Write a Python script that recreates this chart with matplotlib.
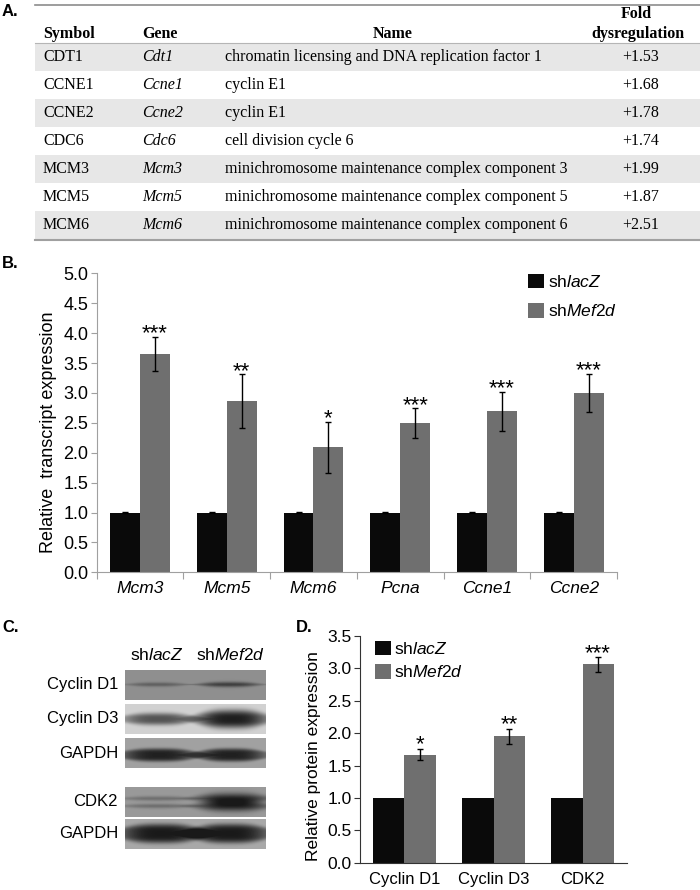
import numpy as np
import matplotlib
matplotlib.use('Agg')
import matplotlib.pyplot as plt
from matplotlib.patches import Rectangle

plt.rcParams['font.family'] = 'Liberation Sans'
plt.rcParams['mathtext.fontset'] = 'custom'
plt.rcParams['mathtext.rm'] = 'Liberation Sans'
plt.rcParams['mathtext.it'] = 'Liberation Sans:italic'

W, H = 700, 890

# A. table
symbols = ['CDT1', 'CCNE1', 'CCNE2', 'CDC6', 'MCM3', 'MCM5', 'MCM6']
genes = ['Cdt1', 'Ccne1', 'Ccne2', 'Cdc6', 'Mcm3', 'Mcm5', 'Mcm6']
names = ['chromatin licensing and DNA replication factor 1',
         'cyclin E1',
         'cyclin E1',
         'cell division cycle 6',
         'minichromosome maintenance complex component 3',
         'minichromosome maintenance complex component 5',
         'minichromosome maintenance complex component 6']
fold = [1.53, 1.68, 1.78, 1.74, 1.99, 1.87, 2.51]

# B. transcripts
b_genes = ['Mcm3', 'Mcm5', 'Mcm6', 'Pcna', 'Ccne1', 'Ccne2']
b_lacz = [1.0, 1.0, 1.0, 1.0, 1.0, 1.0]
b_lacz_err = [0.01, 0.01, 0.01, 0.01, 0.01, 0.01]
b_mef = [3.65, 2.86, 2.09, 2.49, 2.69, 3.0]
b_mef_err = [0.29, 0.45, 0.43, 0.25, 0.33, 0.32]
b_stars = ['***', '**', '*', '***', '***', '***']

# C. western blot (band darkness per lane)
blot_rows = ['Cyclin D1', 'Cyclin D3', 'GAPDH', 'CDK2', 'GAPDH']
blot_bg = [0.56, 0.82, 0.63, 0.60, 0.66]
band_lacz = [0.18, 0.49, 0.50, 0.16, 0.56]
band_mef = [0.31, 0.70, 0.50, 0.42, 0.56]

# D. proteins
d_prot = ['Cyclin D1', 'Cyclin D3', 'CDK2']
d_lacz = [1.0, 1.0, 1.0]
d_mef = [1.67, 1.95, 3.06]
d_mef_err = [0.09, 0.11, 0.11]
d_stars = ['*', '**', '***']

black = '#0a0a0a'
grey = '#6f6f6f'

fig = plt.figure(figsize=(7, 8.9), dpi=100)
bg = fig.add_axes([0, 0, 1, 1])
bg.set_xlim(0, W)
bg.set_ylim(H, 0)
bg.axis('off')


def px_axes(x0, y0, x1, y1):
    return fig.add_axes([x0 / W, 1 - y1 / H, (x1 - x0) / W, (y1 - y0) / H])


# ---- panel letters
for lab, lx, ly in [('A.', 2, 12), ('B.', 2, 263), ('C.', 2, 627), ('D.', 296, 627)]:
    bg.text(lx, ly, lab, fontsize=12, fontweight='bold', ha='left', va='center')

# ---- table
serif = 'Liberation Serif'
tfs = 11.5
row_h = 28
top = 43
bg.plot([35, 700], [5, 5], color='#8c8c8c', lw=1.2)
for i in range(len(symbols)):
    y0 = top + i * row_h
    if i % 2 == 0:
        bg.add_patch(Rectangle((35, y0), 665, row_h, color='#e7e7e7', lw=0))
    yc = y0 + row_h / 2
    bg.text(43, yc, symbols[i], family=serif, fontsize=tfs, va='center')
    bg.text(142, yc, genes[i], family=serif, fontsize=tfs, style='italic', va='center')
    bg.text(225, yc, names[i], family=serif, fontsize=tfs, va='center')
    bg.text(641, yc, f'+{fold[i]:.2f}', family=serif, fontsize=tfs, va='center', ha='center')
bg.plot([35, 700], [top, top], color='#b5b5b5', lw=0.8)
bg.plot([35, 700], [top + row_h * len(symbols) + 1] * 2, color='#a0a0a0', lw=1.5)
hy = 33.5
for txt, hx, ha in [('Symbol', 43, 'left'), ('Gene', 142, 'left'), ('Name', 393, 'center'),
                    ('dysregulation', 638, 'center')]:
    bg.text(hx, hy, txt, family=serif, fontsize=tfs, fontweight='bold', ha=ha, va='center')
bg.text(636, 14, 'Fold', family=serif, fontsize=tfs, fontweight='bold', ha='center', va='center')

# ---- panel B
axB = px_axes(96.7, 273.3, 617, 572.3)
xb = np.arange(len(b_genes)) + 0.5
bw = 0.345
ekw = dict(lw=1, capthick=1, ecolor='black')
axB.bar(xb - bw / 2, b_lacz, bw, color=black, yerr=b_lacz_err, capsize=2.5, error_kw=ekw,
        label='sh$\\mathit{lacZ}$')
axB.bar(xb + bw / 2, b_mef, bw, color=grey, yerr=b_mef_err, capsize=2.5, error_kw=ekw,
        label='sh$\\mathit{Mef2d}$')
for xi, v, e, s in zip(xb, b_mef, b_mef_err, b_stars):
    axB.annotate(s, xy=(xi + bw / 2, v + e), xytext=(0, -2), textcoords='offset points',
                 ha='center', va='baseline', fontsize=16)
axB.set_xlim(0, len(b_genes))
axB.set_ylim(0, 5)
axB.set_yticks(np.arange(0, 5.01, 0.5))
axB.set_yticklabels([f'{v:.1f}' for v in np.arange(0, 5.01, 0.5)], fontsize=13)
axB.set_xticks(np.arange(len(b_genes) + 1))
axB.set_xticklabels([])
axB.set_xticks(xb, minor=True)
axB.set_xticklabels(b_genes, minor=True, fontsize=12.5, style='italic')
axB.tick_params(axis='x', which='minor', length=0, pad=6.5)
axB.tick_params(axis='x', which='major', length=5, color='#a0a0a0')
axB.tick_params(axis='y', length=4, color='#a0a0a0', pad=2)
for sp in ['top', 'right']:
    axB.spines[sp].set_visible(False)
for sp in ['left', 'bottom']:
    axB.spines[sp].set_color('#a0a0a0')
axB.set_ylabel('Relative  transcript expression', fontsize=13, va='center')
axB.yaxis.set_label_coords(-0.092, 0.47)
axB.legend(loc='upper left', bbox_to_anchor=(528 / W, 1 - 274 / H), bbox_transform=fig.transFigure,
           frameon=False, fontsize=12.5, handlelength=0.9, handleheight=0.9, handletextpad=0.25,
           labelspacing=0.75, borderpad=0, borderaxespad=0)

# ---- panel C (blots)
blot_boxes = [(670, 700), (704, 734), (738, 768), (787, 817), (819, 849)]
bx0, bx1 = 125, 266
lane_c = [[157, 229], [158, 232], [159, 231], [158, 232], [161, 230]]
lane_hw = [[24, 25], [30, 30], [32, 29], [30, 30], [35, 33]]
# per band: centre (px from blot top), half thickness for each lane, edge sharpness
blot_bands = [
    [(14.5, (2.2, 2.6), 2)],
    [(15, (6.0, 9.0), 3)],
    [(17, (6.5, 6.5), 4)],
    [(11.5, (2.4, 5.5), 2), (19, (2.4, 5.5), 2)],
    [(14.5, (9.5, 9.5), 4)],
]
for bi, ((y0, y1), b0, lab) in enumerate(zip(blot_boxes, blot_bg, blot_rows)):
    nx, ny = int(bx1 - bx0), int(y1 - y0)
    xs = (np.arange(nx) + bx0 + 0.5)[None, :]
    ys = (np.arange(ny) + 0.5)[:, None]
    dark = np.zeros((ny, nx))
    for li, amp in enumerate([band_lacz[bi], band_mef[bi]]):
        xp = np.exp(-np.abs((xs - lane_c[bi][li]) / lane_hw[bi][li]) ** 3)
        for pos, hts, pw in blot_bands[bi]:
            ht = hts[li] * np.maximum(xp, 1e-3) ** 0.35
            dark += amp * xp ** 0.5 * np.exp(-np.abs((ys - pos) / ht) ** pw)
    img = np.clip(b0 - dark, 0.1, 1)
    bg.imshow(img, cmap='gray', vmin=0, vmax=1, extent=(bx0, bx1, y1, y0), aspect='auto',
              interpolation='bilinear')
    bg.text(118, (y0 + y1) / 2, lab, fontsize=12, ha='right', va='center')
bg.set_xlim(0, W)
bg.set_ylim(H, 0)
bg.text(157, 655, 'sh$\\mathit{lacZ}$', fontsize=12.5, ha='center', va='center')
bg.text(231, 655, 'sh$\\mathit{Mef2d}$', fontsize=12.5, ha='center', va='center')

# ---- panel D
axD = px_axes(360, 636, 627, 862.7)
xd = np.arange(len(d_prot)) + 0.5
dw = 0.35
axD.bar(xd - dw / 2, d_lacz, dw, color=black, label='sh$\\mathit{lacZ}$')
axD.bar(xd + dw / 2, d_mef, dw, color=grey, yerr=d_mef_err, capsize=2.5, error_kw=ekw,
        label='sh$\\mathit{Mef2d}$')
for xi, v, e, s in zip(xd, d_mef, d_mef_err, d_stars):
    axD.annotate(s, xy=(xi + dw / 2, v + e), xytext=(0, -1), textcoords='offset points',
                 ha='center', va='baseline', fontsize=16)
axD.set_xlim(0, len(d_prot))
axD.set_ylim(0, 3.5)
axD.set_yticks(np.arange(0, 3.51, 0.5))
axD.set_yticklabels([f'{v:.1f}' for v in np.arange(0, 3.51, 0.5)], fontsize=12.5)
axD.set_xticks(xd)
axD.set_xticklabels(d_prot, fontsize=12)
axD.tick_params(axis='x', length=0, pad=6.5)
axD.tick_params(axis='y', length=4, color='#333333', pad=2)
for sp in ['top', 'right']:
    axD.spines[sp].set_visible(False)
for sp in ['left', 'bottom']:
    axD.spines[sp].set_color('#333333')
axD.set_ylabel('Relative protein expression', fontsize=12.5, va='center')
axD.yaxis.set_label_coords(-0.176, 0.47)
axD.legend(loc='upper left', bbox_to_anchor=(375 / W, 1 - 641 / H), bbox_transform=fig.transFigure,
           frameon=False, fontsize=12.5, handlelength=0.9, handleheight=0.9, handletextpad=0.2,
           labelspacing=0.4, borderpad=0, borderaxespad=0)

fig.savefig('out.png', dpi=100)
